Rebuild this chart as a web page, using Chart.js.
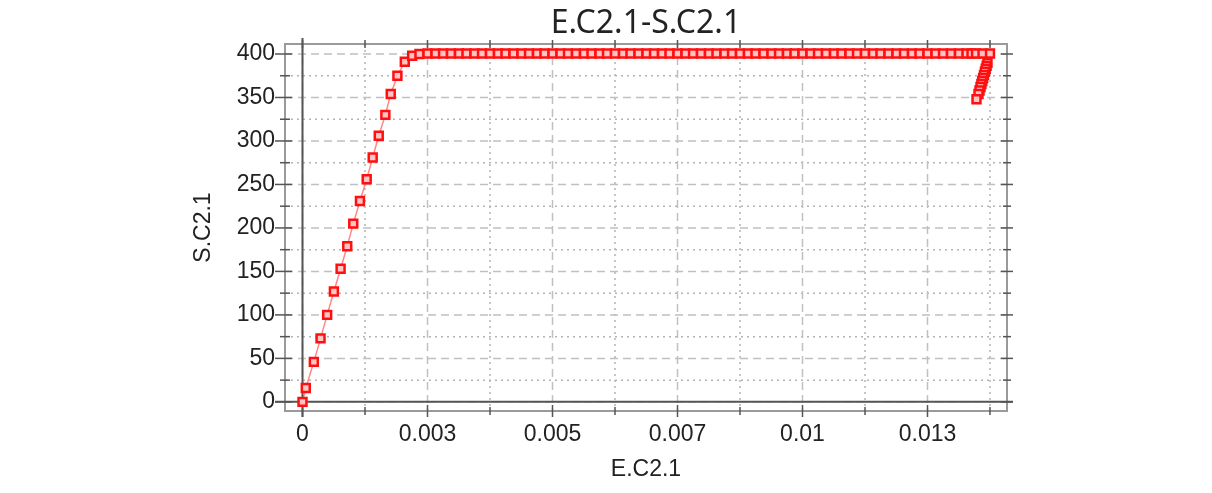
<!DOCTYPE html>
<html lang="en">
<head>
<meta charset="utf-8" />
<title>E.C2.1-S.C2.1</title>
<script src="https://cdn.jsdelivr.net/npm/chart.js@4.4.1/dist/chart.umd.min.js"></script>
<style>
  html, body { margin: 0; padding: 0; background: #fff; }
  #wrap { position: absolute; left: 98px; top: 0; width: 1114px; height: 493px; }
</style>
</head>
<body>
<div id="wrap"><canvas id="chart"></canvas></div>
<script>
// strain (E.C2.1) and stress (S.C2.1)
const strain = [
  0, 0.000066, 0.000227, 0.000361, 0.000493, 0.000628, 0.000762, 0.000895, 0.001015, 0.001149,
  0.001284, 0.001404, 0.001525, 0.001657, 0.001765, 0.001898, 0.002046, 0.002193, 0.002339,
  0.0025, 0.00266, 0.00281, 0.00297, 0.00313, 0.00328, 0.00344, 0.00359, 0.00375, 0.00391,
  0.00406, 0.00422, 0.00438, 0.00453, 0.00469, 0.00484, 0.005, 0.00516, 0.00531, 0.00547,
  0.00563, 0.00578, 0.00594, 0.00609, 0.00625, 0.00641, 0.00656, 0.00672, 0.00688, 0.00703,
  0.00719, 0.00734, 0.0075, 0.00766, 0.00781, 0.00797, 0.00813, 0.00828, 0.00844, 0.00859,
  0.00875, 0.00891, 0.00906, 0.00922, 0.00938, 0.00953, 0.00969, 0.00984, 0.01, 0.01016,
  0.01031, 0.01047, 0.01063, 0.01078, 0.01094, 0.01109, 0.01125, 0.01141, 0.01156, 0.01172,
  0.01188, 0.01203, 0.01219, 0.01234, 0.0125, 0.01266, 0.01281, 0.01297, 0.01313, 0.01328,
  0.01338, 0.01347, 0.0136, 0.01375,
  0.0137, 0.013683, 0.013665, 0.013648, 0.01363, 0.013613, 0.013595, 0.013578, 0.01356, 0.01354,
  0.01352, 0.01348
];
const stress = [
  0, 16, 46, 73, 100, 127, 153, 179, 205, 231,
  256, 281, 306, 330, 354, 375, 391, 398, 400,
  400.6, 400.6, 400.6, 400.6, 400.6, 400.6, 400.6, 400.6, 400.6, 400.6,
  400.6, 400.6, 400.6, 400.6, 400.6, 400.6, 400.6, 400.6, 400.6, 400.6,
  400.6, 400.6, 400.6, 400.6, 400.6, 400.6, 400.6, 400.6, 400.6, 400.6,
  400.6, 400.6, 400.6, 400.6, 400.6, 400.6, 400.6, 400.6, 400.6, 400.6,
  400.6, 400.6, 400.6, 400.6, 400.6, 400.6, 400.6, 400.6, 400.6, 400.6,
  400.6, 400.6, 400.6, 400.6, 400.6, 400.6, 400.6, 400.6, 400.6, 400.6,
  400.6, 400.6, 400.6, 400.6, 400.6, 400.6, 400.6, 400.6, 400.6, 400.6,
  400.6, 400.6, 400.6, 400.6,
  390, 386.5, 383, 379.5, 376, 372.5, 369, 365.5, 362, 358,
  354, 348
];

const xTickValues = [0, 0.0025, 0.005, 0.0075, 0.01, 0.0125];
const xTickLabels = ['0', '0.003', '0.005', '0.007', '0.01', '0.013'];
const xMinorTicks = [0.00125, 0.00375, 0.00625, 0.00875, 0.01125, 0.01375];
const yTickValues = [0, 50, 100, 150, 200, 250, 300, 350, 400];
const yTickLabels = ['0', '50', '100', '150', '200', '250', '300', '350', '400'];
const yMinorTicks = [25, 75, 125, 175, 225, 275, 325, 375];

const tickFont = { family: "'Liberation Sans', Arial, sans-serif", size: 23 };

// grid, frame, zero lines and crossing tick marks
const framePlugin = {
  id: 'frame',
  beforeDatasetsDraw(chart) {
    const { ctx, chartArea: a, scales: { x, y } } = chart;
    const line = (x1, y1, x2, y2) => {
      ctx.beginPath(); ctx.moveTo(x1, y1); ctx.lineTo(x2, y2); ctx.stroke();
    };
    ctx.save();
    ctx.lineWidth = 1.5;

    ctx.strokeStyle = '#b4b4b4';
    ctx.setLineDash([2, 4]);
    xMinorTicks.forEach(v => { const p = x.getPixelForValue(v); line(p, a.top, p, a.bottom); });
    yMinorTicks.forEach(v => { const p = y.getPixelForValue(v); line(a.left, p, a.right, p); });

    ctx.strokeStyle = '#c0c0c0';
    ctx.setLineDash([8, 5]);
    xTickValues.forEach(v => { const p = x.getPixelForValue(v); line(p, a.top, p, a.bottom); });
    yTickValues.forEach(v => { const p = y.getPixelForValue(v); line(a.left, p, a.right, p); });

    ctx.setLineDash([]);
    ctx.strokeStyle = '#9a9a9a';
    ctx.lineWidth = 2;
    ctx.strokeRect(a.left, a.top, a.right - a.left, a.bottom - a.top);

    ctx.strokeStyle = '#555';
    ctx.lineWidth = 2;
    const x0 = x.getPixelForValue(0), y0 = y.getPixelForValue(0);
    line(x0, a.top - 6, x0, a.bottom + 6);
    line(a.left - 10, y0, a.right + 6, y0);

    ctx.lineWidth = 1.5;
    yTickValues.forEach(v => {
      const p = y.getPixelForValue(v);
      line(a.left - 10, p, a.left + 7, p);
      line(a.right - 6, p, a.right + 6, p);
    });
    yMinorTicks.forEach(v => {
      const p = y.getPixelForValue(v);
      line(a.left - 5, p, a.left + 5, p);
      line(a.right - 4, p, a.right + 4, p);
    });
    xTickValues.forEach(v => {
      const p = x.getPixelForValue(v);
      line(p, a.bottom - 6, p, a.bottom + 6);
      line(p, a.top - 4, p, a.top + 4);
    });
    xMinorTicks.forEach(v => {
      const p = x.getPixelForValue(v);
      line(p, a.bottom - 4, p, a.bottom + 4);
      line(p, a.top - 4, p, a.top + 4);
    });
    ctx.restore();
  }
};

new Chart(document.getElementById('chart').getContext('2d'), {
  type: 'line',
  data: {
    datasets: [{
      label: 'S.C2.1',
      data: strain.map((v, i) => ({ x: v, y: stress[i] })),
      showLine: true,
      tension: 0,
      borderColor: 'rgba(255, 70, 70, 0.65)',
      borderWidth: 1.5,
      pointStyle: 'rect',
      pointRadius: 5.6,
      pointBorderWidth: 2.5,
      pointBorderColor: '#ff1010',
      pointBackgroundColor: '#ffc4c4'
    }]
  },
  options: {
    responsive: true,
    maintainAspectRatio: false,
    animation: false,
    layout: { padding: { left: 0, right: 205, top: 0, bottom: 0 } },
    plugins: {
      legend: { display: false },
      tooltip: { enabled: false },
      title: {
        display: true,
        fullSize: false,
        text: 'E.C2.1-S.C2.1',
        color: '#222',
        font: { family: "'Noto Sans', sans-serif", size: 32, weight: 'normal', lineHeight: 1.2 },
        padding: { top: 5, bottom: 0.6 }
      }
    },
    scales: {
      x: {
        type: 'linear',
        min: -0.00035,
        max: 0.01409,
        grid: { display: false, drawTicks: false },
        border: { display: false },
        afterBuildTicks: s => { s.ticks = xTickValues.map(v => ({ value: v })); },
        afterFit: s => { s.height = 82; },
        ticks: {
          autoSkip: false,
          maxRotation: 0,
          padding: 10,
          color: '#222',
          font: tickFont,
          callback: (v, i) => xTickLabels[i]
        },
        title: {
          display: true,
          text: 'E.C2.1',
          color: '#222',
          font: { ...tickFont, lineHeight: 1.2 },
          padding: { top: 0, bottom: 10 }
        }
      },
      y: {
        type: 'linear',
        min: -10.5,
        max: 411.5,
        grid: { display: false, drawTicks: false },
        border: { display: false },
        afterBuildTicks: s => { s.ticks = yTickValues.map(v => ({ value: v })); },
        afterFit: s => { s.width = 187; },
        ticks: {
          autoSkip: false,
          padding: 10,
          color: '#222',
          font: tickFont,
          callback: (v, i) => yTickLabels[i]
        },
        title: {
          display: true,
          text: 'S.C2.1',
          color: '#222',
          font: { ...tickFont, lineHeight: 1.2 },
          padding: { top: 92, bottom: 0 }
        }
      }
    }
  },
  plugins: [framePlugin]
});
</script>
</body>
</html>
